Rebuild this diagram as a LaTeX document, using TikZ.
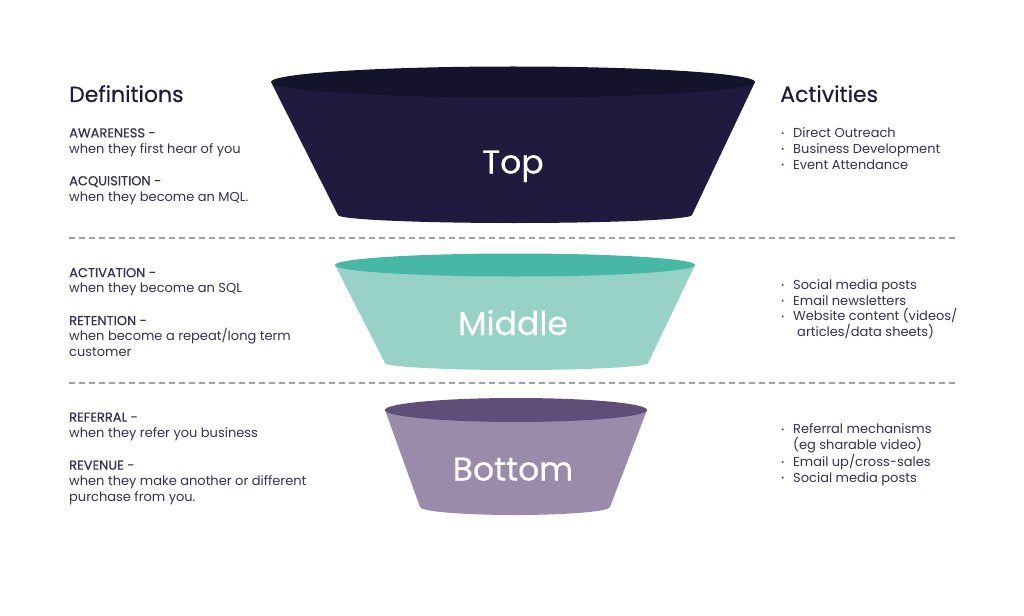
\documentclass[tikz,border=0pt]{standalone}
\usepackage{fontspec}
\setmainfont{Poppins}
\newfontfamily\lblfont{Poppins}[FakeBold=0.5]
\newfontfamily\medfont{Poppins}[FakeBold=0.35]
\usepackage{tikz}
\usetikzlibrary{positioning}
\usepackage{xcolor}
\definecolor{headnavy}{HTML}{1E1B3A}
\definecolor{bodyink}{HTML}{34324F}
\definecolor{topbody}{HTML}{201A3F}
\definecolor{toprim}{HTML}{15132B}
\definecolor{midbody}{HTML}{98D1C6}
\definecolor{midrim}{HTML}{47B8A5}
\definecolor{botbody}{HTML}{9A8BAA}
\definecolor{botrim}{HTML}{5F4F78}
\definecolor{dashgray}{HTML}{A0A0AA}
\newcommand\deflbl[1]{{\lblfont #1}}
\newcommand\actitem{\makebox[13pt][l]{\hspace*{1pt}\lblfont\textperiodcentered}}
\newcommand\actcont{\hspace*{13pt}}

\begin{document}
\begin{tikzpicture}[x=1pt, y=-1pt, inner sep=0pt, font=\fontsize{13}{15.7}\selectfont]
  \tikzstyle{heading}=[anchor=base west,font=\medfont\fontsize{22}{26}\selectfont,text=headnavy]
  \tikzstyle{deftext}=[anchor=base west,align=left,text=bodyink]
  \tikzstyle{stage}=[anchor=base,font=\medfont\fontsize{33}{40}\selectfont,text=white]
  \tikzstyle{sep}=[draw=dashgray,line width=1.2pt,dash pattern=on 6pt off 4pt]
  \useasboundingbox[fill=white] (0,0) rectangle (1024,615);
  % funnels
  \fill[topbody] (271,82) -- (338,215) arc[start angle=180,end angle=0,x radius=177,y radius=8] -- (755,82) -- cycle;
  \fill[toprim] (513,82) ellipse[x radius=242,y radius=15.5];
  \fill[midbody] (335,265) -- (385,363) arc[start angle=180,end angle=0,x radius=131.5,y radius=7] -- (695,265) -- cycle;
  \fill[midrim] (515,265) ellipse[x radius=180,y radius=11.5];
  \fill[botbody] (385,410) -- (420,507) arc[start angle=180,end angle=0,x radius=95,y radius=8] -- (647,410) -- cycle;
  \fill[botrim] (516,410) ellipse[x radius=131,y radius=12];
  \node[stage] (top) at (513,173.5) {Top};
  \node[stage] (middle) at (513,335) {Middle};
  \node[stage] (bottom) at (513,480.5) {Bottom};
  % separators
  \coordinate (s1l) at (69,238); \coordinate (s1r) at (958,238);
  \coordinate (s2l) at (69,383); \coordinate (s2r) at (958,383);
  \draw[sep] (s1l) -- (s1r);
  \draw[sep] (s2l) -- (s2r);
  % definitions (nodes sit on the baseline of their last line)
  \node[heading] (defs) at (69,102) {Definitions};
  \node[deftext] (def1) at (69,201) {\deflbl{AWARENESS -}\\when they first hear of you\\[16.5pt]\deflbl{ACQUISITION -}\\when they become an MQL.};
  \node[deftext] (def2) at (69,356.5) {\deflbl{ACTIVATION -}\\when they become an SQL\\[16.5pt]\deflbl{RETENTION -}\\when become a repeat/long term\\customer};
  \node[deftext] (def3) at (69,501) {\deflbl{REFERRAL -}\\when they refer you business\\[16.5pt]\deflbl{REVENUE -}\\when they make another or different\\purchase from you.};
  % activities
  \node[heading] (acts) at (780,102) {Activities};
  \node[deftext] (act1) at (780,169) {\actitem Direct Outreach\\\actitem Business Development\\\actitem Event Attendance};
  \node[deftext] (act2) at (780,336.5) {\actitem Social media posts\\\actitem Email newsletters\\\actitem Website content (videos/\\\actcont\hspace*{4pt}articles/data sheets)};
  \node[deftext] (act3) at (780,482) {\actitem Referral mechanisms\\\actcont(eg sharable video)\\\actitem Email up/cross-sales\\\actitem Social media posts};
\end{tikzpicture}
\end{document}
